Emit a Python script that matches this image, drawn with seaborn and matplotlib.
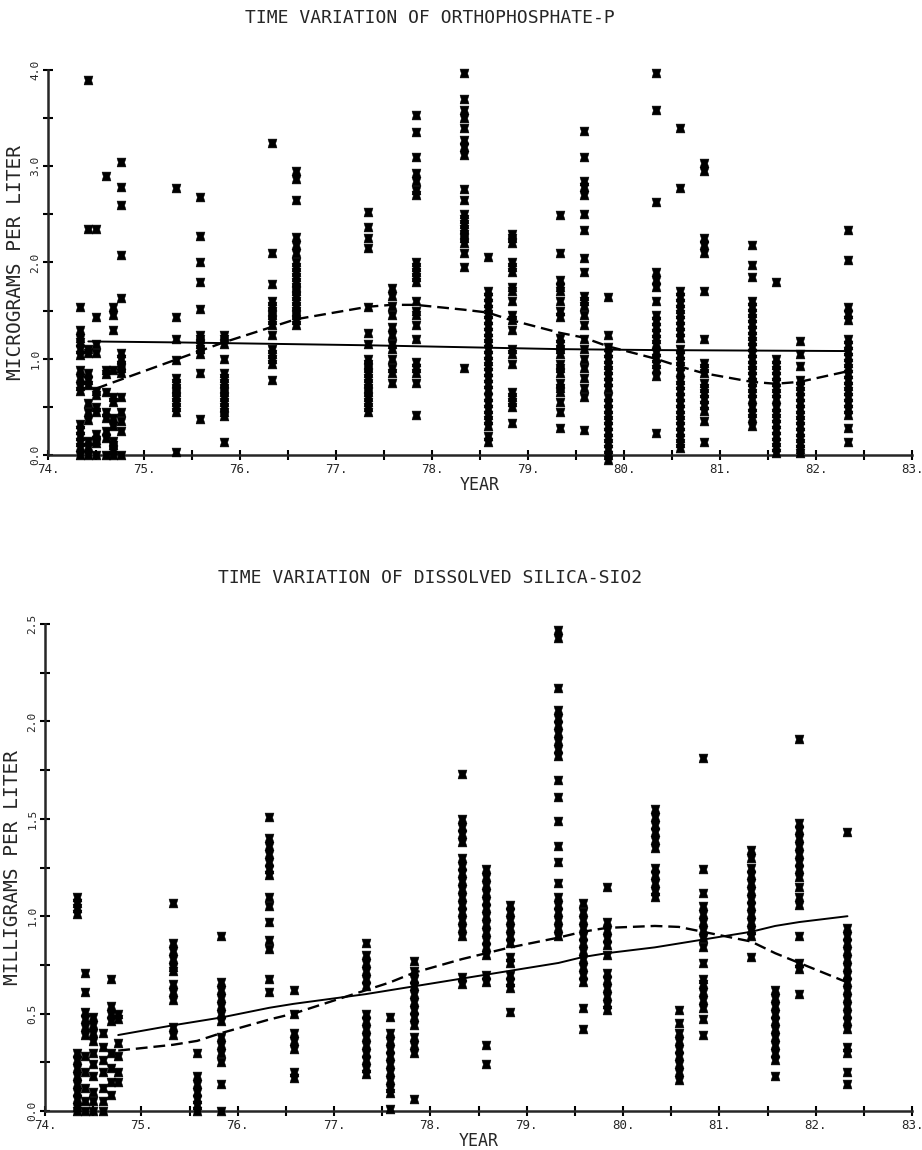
import numpy as np
import pandas as pd
import seaborn as sns
import matplotlib.pyplot as plt
from matplotlib.ticker import MultipleLocator, FormatStrFormatter

# sampling times (fraction of year)
years = [74.33, 74.42, 74.5, 74.6, 74.68, 74.76, 75.33, 75.58, 75.83, 76.33, 76.58,
         77.33, 77.58, 77.83, 78.33, 78.58, 78.83, 79.33, 79.58, 79.83, 80.33, 80.58,
         80.83, 81.33, 81.58, 81.83, 82.33]

# orthophosphate-P, micrograms per liter, one list per sampling time
po4_values = [
    [1.54, 1.3, 1.22, 1.17, 1.1, 1.04, 0.88, 0.8, 0.72, 0.66, 0.32, 0.26, 0.2, 0.14, 0.08, 0.0],
    [3.9, 2.35, 1.1, 1.06, 0.85, 0.78, 0.73, 0.54, 0.45, 0.36, 0.15, 0.08, 0.0],
    [2.35, 1.43, 1.15, 1.06, 0.67, 0.62, 0.5, 0.45, 0.22, 0.16, 0.12, 0.0],
    [2.9, 0.88, 0.84, 0.65, 0.45, 0.38, 0.25, 0.18, 0.0],
    [1.54, 1.45, 1.3, 0.88, 0.6, 0.55, 0.38, 0.3, 0.15, 0.1, 0.05, 0.0],
    [3.04, 2.78, 2.6, 2.08, 1.63, 1.06, 1.0, 0.94, 0.9, 0.85, 0.6, 0.45, 0.35, 0.25, 0.0],
    [2.77, 1.43, 1.21, 0.99, 0.8, 0.75, 0.7, 0.65, 0.6, 0.55, 0.5, 0.45, 0.03],
    [2.68, 2.28, 2.0, 1.8, 1.52, 1.25, 1.2, 1.15, 1.1, 1.05, 0.85, 0.37],
    [1.25, 1.2, 1.15, 1.0, 0.85, 0.8, 0.75, 0.7, 0.65, 0.6, 0.55, 0.5, 0.45, 0.4, 0.14],
    [3.24, 2.1, 1.78, 1.6, 1.55, 1.5, 1.45, 1.4, 1.35, 1.25, 1.1, 1.05, 1.0, 0.95, 0.78],
    [2.95, 2.87, 2.65, 2.26, 2.18, 2.1, 2.0, 1.95, 1.9, 1.85, 1.8, 1.75, 1.7, 1.65, 1.6,
     1.55, 1.5, 1.45, 1.4, 1.35],
    [2.52, 2.37, 2.25, 2.15, 1.54, 1.27, 1.15, 1.0, 0.95, 0.9, 0.85, 0.8, 0.75, 0.7, 0.65,
     0.6, 0.55, 0.5, 0.45],
    [1.73, 1.65, 1.55, 1.45, 1.33, 1.25, 1.15, 1.1, 1.0, 0.9, 0.85, 0.75],
    [3.53, 3.36, 3.1, 2.93, 2.85, 2.75, 2.7, 2.0, 1.95, 1.9, 1.85, 1.8, 1.6, 1.5, 1.45,
     1.35, 1.2, 0.97, 0.9, 0.85, 0.75, 0.42],
    [3.97, 3.7, 3.58, 3.5, 3.4, 3.27, 3.2, 3.12, 2.76, 2.65, 2.5, 2.45, 2.4, 2.35, 2.3,
     2.25, 2.2, 2.1, 1.95, 0.9],
    [2.06, 1.7, 1.64, 1.58, 1.52, 1.46, 1.4, 1.34, 1.28, 1.22, 1.16, 1.1, 1.04, 0.98, 0.92,
     0.86, 0.8, 0.74, 0.68, 0.6, 0.54, 0.48, 0.42, 0.36, 0.3, 0.2, 0.14],
    [2.3, 2.25, 2.2, 2.0, 1.95, 1.9, 1.75, 1.7, 1.6, 1.45, 1.4, 1.3, 1.1, 1.05, 0.95,
     0.65, 0.6, 0.55, 0.5, 0.33],
    [2.49, 2.1, 1.82, 1.75, 1.7, 1.6, 1.5, 1.43, 1.22, 1.15, 1.1, 1.05, 0.95, 0.9, 0.85,
     0.75, 0.7, 0.65, 0.55, 0.45, 0.28],
    [3.37, 3.1, 2.85, 2.78, 2.7, 2.5, 2.34, 2.05, 1.9, 1.65, 1.6, 1.55, 1.45, 1.35, 1.2,
     1.1, 1.0, 0.9, 0.8, 0.7, 0.6, 0.26],
    [1.64, 1.25, 1.12, 1.06, 1.0, 0.94, 0.88, 0.82, 0.76, 0.7, 0.6, 0.54, 0.48, 0.42, 0.36,
     0.3, 0.24, 0.18, 0.12, 0.06, 0.0, -0.05],
    [3.97, 3.58, 2.63, 1.9, 1.82, 1.75, 1.6, 1.45, 1.39, 1.33, 1.27, 1.21, 1.15, 1.07, 1.01,
     0.95, 0.89, 0.82, 0.23],
    [3.4, 2.77, 1.7, 1.64, 1.58, 1.52, 1.46, 1.4, 1.34, 1.28, 1.22, 1.1, 1.04, 0.98, 0.92,
     0.86, 0.78, 0.73, 0.66, 0.6, 0.54, 0.48, 0.42, 0.36, 0.3, 0.24, 0.18, 0.12, 0.07],
    [3.03, 2.95, 2.25, 2.18, 2.1, 1.7, 1.2, 0.96, 0.9, 0.85, 0.75, 0.7, 0.64, 0.58, 0.52,
     0.46, 0.35, 0.14],
    [2.18, 1.97, 1.85, 1.6, 1.54, 1.48, 1.42, 1.36, 1.3, 1.24, 1.18, 1.12, 1.06, 1.0, 0.94,
     0.88, 0.82, 0.76, 0.7, 0.64, 0.58, 0.5, 0.44, 0.38, 0.3],
    [1.8, 1.0, 0.94, 0.88, 0.82, 0.76, 0.7, 0.64, 0.58, 0.5, 0.44, 0.38, 0.32, 0.26, 0.2,
     0.14, 0.08, 0.02],
    [1.18, 1.05, 0.92, 0.78, 0.72, 0.66, 0.6, 0.54, 0.48, 0.42, 0.36, 0.3, 0.24, 0.18,
     0.12, 0.06, 0.02],
    [2.34, 2.03, 1.54, 1.47, 1.4, 1.2, 1.14, 1.08, 1.02, 0.96, 0.9, 0.84, 0.78, 0.72, 0.66,
     0.6, 0.54, 0.48, 0.42, 0.28, 0.14],
]

# dissolved silica, milligrams per liter
sio2_values = [
    [1.1, 1.07, 1.04, 1.01, 0.3, 0.26, 0.22, 0.18, 0.14, 0.1, 0.06, 0.02, 0.0],
    [0.71, 0.61, 0.51, 0.47, 0.43, 0.39, 0.28, 0.2, 0.12, 0.05, 0.0],
    [0.48, 0.44, 0.4, 0.36, 0.3, 0.24, 0.18, 0.1, 0.05, 0.0],
    [0.4, 0.33, 0.26, 0.2, 0.12, 0.05, 0.0],
    [0.68, 0.54, 0.5, 0.46, 0.3, 0.22, 0.15, 0.08],
    [0.5, 0.47, 0.35, 0.28, 0.2, 0.15],
    [1.07, 0.86, 0.82, 0.78, 0.74, 0.72, 0.65, 0.61, 0.57, 0.43, 0.39],
    [0.3, 0.18, 0.14, 0.1, 0.06, 0.03, 0.0],
    [0.9, 0.66, 0.62, 0.58, 0.54, 0.5, 0.46, 0.38, 0.34, 0.3, 0.25, 0.14, 0.0],
    [1.51, 1.4, 1.36, 1.32, 1.28, 1.24, 1.21, 1.1, 1.05, 0.97, 0.88, 0.83, 0.68, 0.61],
    [0.62, 0.5, 0.4, 0.36, 0.32, 0.2, 0.17],
    [0.86, 0.8, 0.76, 0.72, 0.68, 0.64, 0.5, 0.46, 0.42, 0.38, 0.34, 0.3, 0.26, 0.22, 0.19],
    [0.48, 0.4, 0.36, 0.32, 0.28, 0.24, 0.2, 0.16, 0.12, 0.09, 0.01],
    [0.77, 0.72, 0.68, 0.64, 0.6, 0.56, 0.52, 0.48, 0.44, 0.38, 0.34, 0.3, 0.06],
    [1.73, 1.5, 1.46, 1.42, 1.38, 1.3, 1.26, 1.22, 1.18, 1.14, 1.1, 1.06, 1.02, 0.98, 0.94,
     0.9, 0.69, 0.65],
    [1.24, 1.2, 1.16, 1.12, 1.08, 1.04, 1.0, 0.96, 0.92, 0.88, 0.84, 0.8, 0.7, 0.66, 0.34, 0.24],
    [1.06, 1.02, 0.98, 0.94, 0.9, 0.86, 0.79, 0.76, 0.7, 0.66, 0.63, 0.51],
    [2.47, 2.43, 2.17, 2.06, 2.02, 1.98, 1.94, 1.9, 1.86, 1.82, 1.7, 1.61, 1.49, 1.36, 1.28,
     1.17, 1.1, 1.06, 1.02, 0.98, 0.94, 0.9],
    [1.07, 1.02, 0.98, 0.94, 0.9, 0.86, 0.82, 0.78, 0.74, 0.7, 0.66, 0.53, 0.42],
    [1.15, 0.97, 0.93, 0.89, 0.85, 0.8, 0.71, 0.67, 0.63, 0.59, 0.55, 0.52],
    [1.55, 1.51, 1.47, 1.43, 1.39, 1.35, 1.25, 1.21, 1.17, 1.13, 1.1],
    [0.52, 0.45, 0.4, 0.36, 0.32, 0.28, 0.24, 0.2, 0.16],
    [1.81, 1.24, 1.12, 1.05, 1.01, 0.97, 0.93, 0.89, 0.84, 0.76, 0.68, 0.65, 0.61, 0.57,
     0.53, 0.47, 0.39],
    [1.34, 1.3, 1.25, 1.21, 1.17, 1.13, 1.09, 1.05, 1.01, 0.97, 0.93, 0.9, 0.79],
    [0.62, 0.58, 0.54, 0.5, 0.46, 0.42, 0.38, 0.34, 0.3, 0.26, 0.18],
    [1.91, 1.48, 1.44, 1.4, 1.36, 1.32, 1.28, 1.24, 1.2, 1.15, 1.1, 1.06, 0.9, 0.76, 0.73, 0.6],
    [1.43, 0.94, 0.9, 0.86, 0.82, 0.78, 0.74, 0.7, 0.66, 0.62, 0.58, 0.54, 0.5, 0.46, 0.42,
     0.33, 0.3, 0.2, 0.14],
]

# trend lines (solid = linear fit, dashed = smoothed)
po4_fit_years = [74.42, 75.33, 76.33, 77.33, 78.33, 79.33, 80.33, 81.33, 82.33]
po4_fit = [1.18, 1.17, 1.155, 1.14, 1.12, 1.1, 1.09, 1.085, 1.08]
po4_smooth_years = [74.5, 75.33, 75.58, 75.83, 76.33, 76.58, 77.33, 77.58, 77.83, 78.33, 78.58,
                    78.83, 79.33, 79.58, 79.83, 80.33, 80.58, 80.83, 81.33, 81.58, 81.83, 82.33]
po4_smooth = [0.69, 0.99, 1.08, 1.17, 1.33, 1.41, 1.54, 1.56, 1.56, 1.51, 1.48, 1.4, 1.27,
              1.22, 1.13, 1.0, 0.92, 0.85, 0.76, 0.74, 0.76, 0.87]

sio2_line_years = [74.76, 75.33, 75.58, 75.83, 76.33, 76.58, 77.33, 77.58, 77.83, 78.33, 78.58,
                   78.83, 79.33, 79.58, 79.83, 80.33, 80.58, 80.83, 81.33, 81.58, 81.83, 82.33]
sio2_fit = [0.39, 0.44, 0.46, 0.48, 0.53, 0.55, 0.6, 0.62, 0.64, 0.68, 0.7, 0.72, 0.76, 0.79,
            0.81, 0.84, 0.86, 0.88, 0.92, 0.95, 0.97, 1.0]
sio2_smooth = [0.31, 0.34, 0.36, 0.4, 0.47, 0.5, 0.62, 0.66, 0.71, 0.78, 0.81, 0.84, 0.89,
               0.92, 0.94, 0.95, 0.945, 0.92, 0.87, 0.81, 0.76, 0.66]


def long_table(values):
    rows = [(yr, v) for yr, col in zip(years, values) for v in col]
    return pd.DataFrame(rows, columns=['year', 'value'])


sns.set_style('ticks')
plt.rcParams['font.family'] = ['DejaVu Sans Mono', 'DejaVu Sans']

# filled square with small notches at the sides, like the plotter symbol
symbol = [(-1, -1), (1, -1), (0.7, 0), (1, 1), (-1, 1), (-0.7, 0), (-1, -1)]

fig = plt.figure(figsize=(9.22, 11.5), dpi=100)
ax1 = fig.add_axes([48 / 922, 1 - 455 / 1150, 864 / 922, 385 / 1150])
ax2 = fig.add_axes([45 / 922, 1 - 1111 / 1150, 867 / 922, 487 / 1150])

panels = [
    (ax1, po4_values, po4_fit_years, po4_fit, po4_smooth_years, po4_smooth, 4.0, 1.0, 0.5,
     'MICROGRAMS PER LITER', 'TIME VARIATION OF ORTHOPHOSPHATE-P', 18),
    (ax2, sio2_values, sio2_line_years, sio2_fit, sio2_line_years, sio2_smooth, 2.5, 0.5, 0.25,
     'MILLIGRAMS PER LITER', 'TIME VARIATION OF DISSOLVED SILICA-SIO2', 578),
]

for ax, vals, fy, fv, sy, sv, ymax, ymaj, ymin, ylab, title, ty in panels:
    df = long_table(vals)
    sns.scatterplot(data=df, x='year', y='value', ax=ax, marker=symbol, s=40,
                    color='black', edgecolor='black', linewidth=0.4, clip_on=False,
                    zorder=3)
    sns.lineplot(x=fy, y=fv, ax=ax, color='black', linewidth=1.4, sort=False,
                 estimator=None, zorder=4)
    sns.lineplot(x=sy, y=sv, ax=ax, color='black', linewidth=1.7, sort=False,
                 estimator=None, linestyle=(0, (5, 2.5)), zorder=4)

    ax.set_xlim(74, 83)
    ax.set_ylim(0, ymax)
    sns.despine(ax=ax)
    for side in ['left', 'bottom']:
        ax.spines[side].set_linewidth(1.8)
    ax.xaxis.set_major_locator(MultipleLocator(1))
    ax.xaxis.set_minor_locator(MultipleLocator(0.5))
    ax.yaxis.set_major_locator(MultipleLocator(ymaj))
    ax.yaxis.set_minor_locator(MultipleLocator(ymin))
    ax.xaxis.set_major_formatter(FormatStrFormatter('%d.'))
    ax.yaxis.set_major_formatter(FormatStrFormatter('%.1f'))
    ax.tick_params(which='both', direction='inout', length=7, width=1.5, color='black')
    ax.tick_params(axis='x', labelsize=9, pad=2)
    ax.tick_params(axis='y', labelsize=8, pad=2)
    for lab in ax.get_yticklabels():
        lab.set_rotation(90)
        lab.set_va('center')
    ax.set_xlabel('YEAR', fontsize=12, labelpad=0)
    ax.set_ylabel(ylab, fontsize=14, labelpad=4)
    fig.text(430 / 922, 1 - ty / 1150, title, ha='center', va='center', fontsize=13)

fig.savefig('out.png', dpi=100, facecolor='white')
